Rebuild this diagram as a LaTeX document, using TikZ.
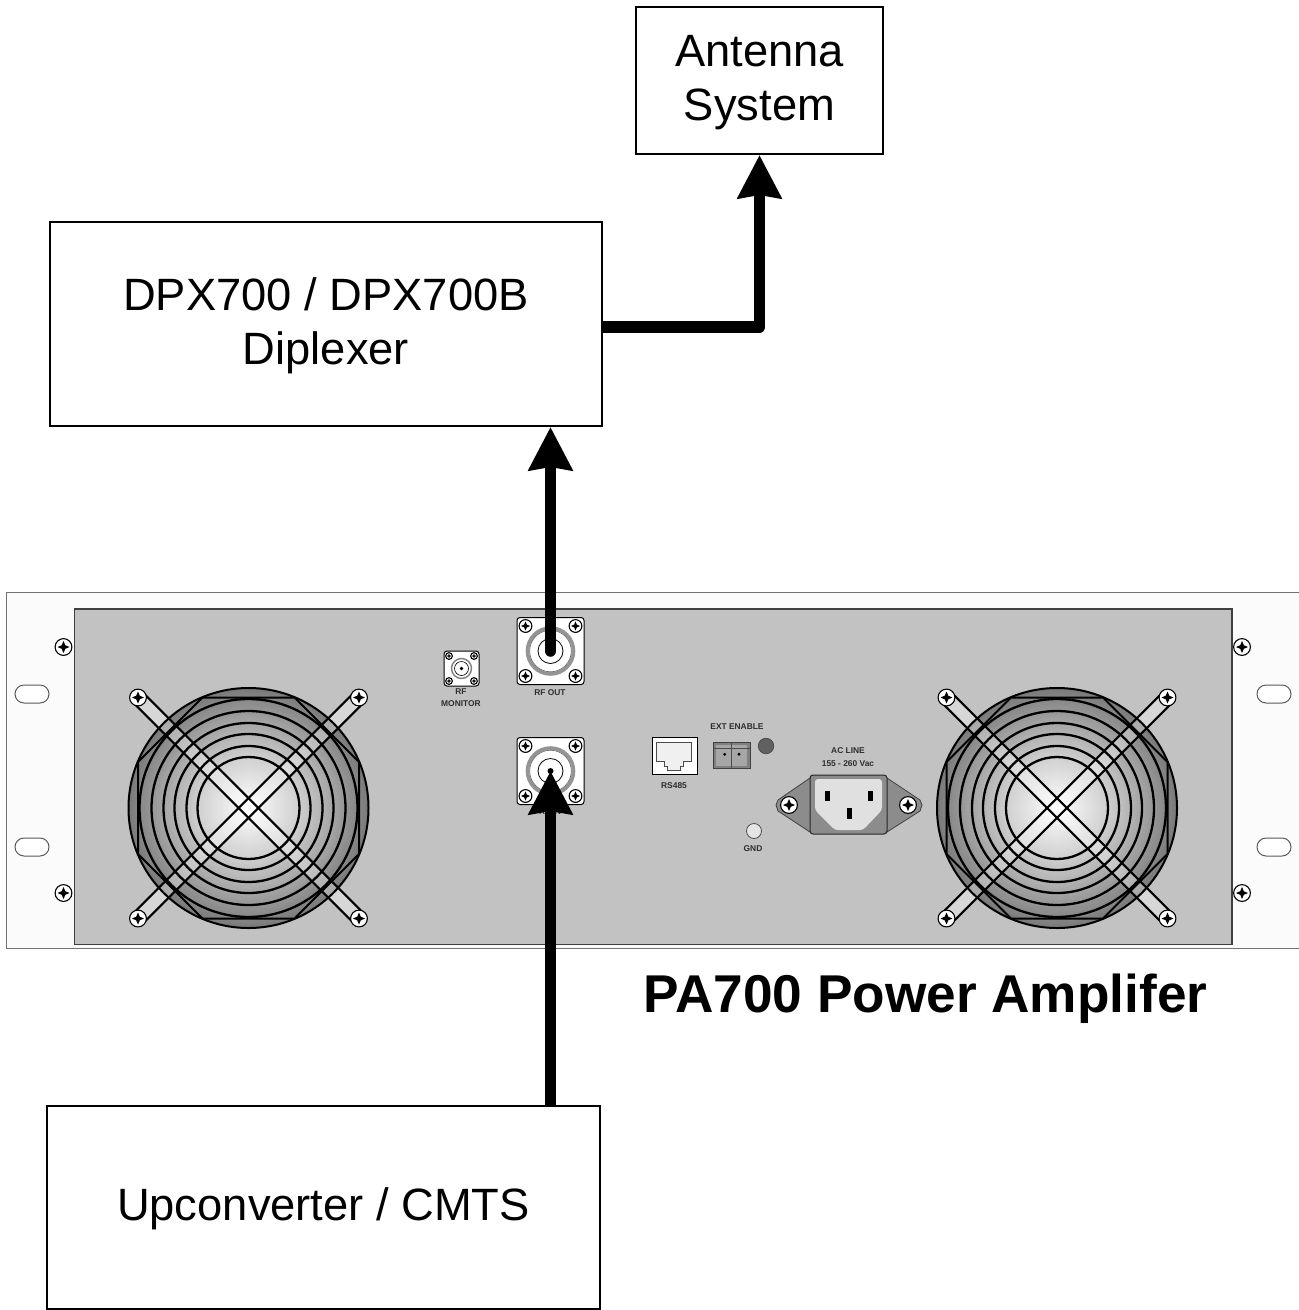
\documentclass[tikz,border=0pt]{standalone}
\usepackage{fontspec}
\setmainfont{Liberation Sans}
\usetikzlibrary{arrows.meta}
\definecolor{panelgray}{HTML}{C2C2C2}
\definecolor{rackwhite}{HTML}{FBFBFB}
\definecolor{inktext}{HTML}{2E2E2E}
\tikzset{
  blockbox/.style={draw=black,line width=2pt,fill=white,inner sep=0pt},
  blocktext/.style={inner sep=0pt,align=center,font=\fontsize{45.3}{54}\selectfont},
  feed/.style={line width=11.5pt,line join=round,-{Stealth[length=43pt,width=43pt,inset=3pt]}},
  tiny label/.style={text=inktext,inner sep=0pt,font=\bfseries\fontsize{8.4}{12}\selectfont},
  connbox/.style={draw=black,line width=1pt,fill=white,rounded corners=3pt,inner sep=0pt,minimum size=#1},
  slotshape/.style={draw=black!65,line width=1pt,fill=white,rounded corners=9pt},
  screwpic/.pic={
    \draw[black,line width=1.1pt,fill=white] (0,0) circle (8.4);
    \fill[black] (-6,0) -- (-1.8,-1.8) -- (0,-6) -- (1.8,-1.8) -- (6,0) -- (1.8,1.8) -- (0,6) -- (-1.8,1.8) -- cycle;
  }
}
\newcommand{\fanguard}[2]{%
  \begin{scope}[shift={(#1,#2)}]
    \foreach \r in {120,118,...,2} {
      \pgfmathsetmacro{\p}{\r<50 ? 0.36*\r : (\r<110 ? 18+(\r-50)*0.48 : 47+(\r-110)*0.5)}
      \fill[black!\p!white] (0,0) circle (\r);
    }
    \foreach \a in {45,-45} {
      \begin{scope}[rotate=\a]
        \fill[white,opacity=.35] (-156,-7) rectangle (156,7);
      \end{scope}
    }
    \draw[black,line width=2pt] (0,0) circle (120);
    \draw[black,line width=2pt,line join=round] (-110.5,-46) -- (-46,-110.5) -- (46,-110.5) -- (110.5,-46) -- (110.5,46) -- (46,110.5) -- (-46,110.5) -- (-110.5,46) -- cycle;
    \foreach \r in {51,62,74,85,97,109} {\draw[black,line width=2.3pt] (0,0) circle (\r);}
    \foreach \a in {45,-45} {
      \begin{scope}[rotate=\a]
        \draw[black,line width=2.1pt] (-156,-7) -- (156,-7) (-156,7) -- (156,7);
      \end{scope}
    }
    \pic at (-110.5,-110.5) {screwpic};
    \pic at (110.5,-110.5) {screwpic};
    \pic at (-110.5,110.5) {screwpic};
    \pic at (110.5,110.5) {screwpic};
  \end{scope}}
\newcommand{\bigconn}[3]{%
  \node[connbox=67pt] (#1) at (#2,#3) {};
  \begin{scope}[shift={(#2,#3)}]
    \draw[black!42,line width=3.6pt] (0,0) circle (23);
    \draw[black!60,line width=.6pt] (0,0) circle (20.8);
    \draw[black,line width=.8pt] (0,0) circle (12.5);
    \fill[black] (0,0) circle (3);
    \pic[scale=.76] at (-25,-25) {screwpic};
    \pic[scale=.76] at (25,-25) {screwpic};
    \pic[scale=.76] at (-25,25) {screwpic};
    \pic[scale=.76] at (25,25) {screwpic};
  \end{scope}}
\begin{document}
\begin{tikzpicture}[x=1pt,y=-1pt]
\useasboundingbox (0,0) rectangle (1299,1310);
\fill[white] (0,0) rectangle (1299,1310);
% rack
\draw[black!55,line width=1.3pt,fill=rackwhite] (1305,592.5) -- (6.5,592.5) -- (6.5,948.5) -- (1305,948.5);
\draw[black!75,line width=1.2pt,fill=panelgray] (74.5,609) rectangle (1232,944.5);
\foreach \y in {694,847} {
  \draw[slotshape] (15,\y-9) rectangle (49,\y+9);
  \draw[slotshape] (1257,\y-9) rectangle (1291,\y+9);
}
\pic at (63.5,647) {screwpic};
\pic at (63.5,893) {screwpic};
\pic at (1242,647) {screwpic};
\pic at (1242,893) {screwpic};
\fanguard{248.5}{808}
\fanguard{1057}{808}
% RF connectors
\bigconn{rfout}{550.5}{651}
\bigconn{rfin}{550.5}{771}
\node[tiny label] (rfoutlabel) at (550,693) {RF OUT};
\node[tiny label] (rfinlabel) at (550,812) {RF IN};
\node[connbox=35pt] (rfmon) at (461.5,668.5) {};
\begin{scope}[shift={(461.5,668.5)}]
  \draw[black!50,line width=1.4pt] (0,0) circle (10);
  \draw[black,line width=.6pt] (0,0) circle (7);
  \fill[black] (0,0) circle (1.8);
  \pic[scale=.4] at (-12.5,-12.5) {screwpic};
  \pic[scale=.4] at (12.5,-12.5) {screwpic};
  \pic[scale=.4] at (-12.5,12.5) {screwpic};
  \pic[scale=.4] at (12.5,12.5) {screwpic};
\end{scope}
\node[tiny label] (rfmonlabel) at (461,698) [align=center] {RF\\MONITOR};
% RS485
\node[draw=black,line width=.8pt,fill=white,minimum width=45pt,minimum height=37pt,inner sep=0pt] (rsport) at (674.5,755.5) {};
\draw[black!70,line width=1pt,fill=black!6] (656.7,742.3) -- (691.7,742.3) -- (691.7,761.7) -- (683.3,761.7) -- (683.3,766.7) -- (680,766.7) -- (680,770.7) -- (667.3,770.7) -- (667.3,766.7) -- (664.3,766.7) -- (664.3,761.7) -- (656.7,761.7) -- cycle;
\node[tiny label] (rslabel) at (674,786) {RS485};
% EXT ENABLE
\node[draw=black!75,line width=.8pt,fill=black!50,minimum width=37pt,minimum height=26pt,inner sep=0pt] (extport) at (731.5,755) {};
\fill[black!35] (716,745) rectangle (730.5,766);
\fill[black!35] (732,745) rectangle (747,766);
\draw[black!70,line width=.6pt] (713,748.5) -- (750,748.5) (731.3,742) -- (731.3,768);
\fill[black] (724.7,754.3) circle (1.6);
\fill[black] (739,754.3) circle (1.6);
\node[tiny label] (extlabel) at (737,727) {EXT ENABLE};
\node[circle,draw=black!70,line width=.8pt,fill=black!62,minimum size=15.5pt,inner sep=0pt] (led) at (766,746) {};
% GND
\node[circle,draw=black!70,line width=.8pt,fill=black!10,minimum size=15pt,inner sep=0pt] (gnd) at (754,831) {};
\node[tiny label] (gndlabel) at (753,849) {GND};
% AC inlet
\node[tiny label] (aclabel) at (848,751) {AC LINE};
\node[tiny label] (acvolts) at (848,764) {155 - 260 Vac};
\fill[black!45,draw=black!75,line width=.8pt,line join=round] (810,778) -- (778,800) -- (776,805) -- (778,811) -- (810,832) -- (887,832) -- (920,811) -- (922,805) -- (920,800) -- (887,778) -- cycle;
\node[draw=black!85,line width=1pt,fill=black!45,rounded corners=3pt,minimum width=77pt,minimum height=59pt,inner sep=0pt] (inlet) at (848.5,804.5) {};
\fill[black!12,rounded corners=3pt] (815,779) -- (815,810) -- (835,830) -- (863,830) -- (882,810) -- (882,779) -- cycle;
\fill[black] (824.5,790.5) rectangle (829.5,801);
\fill[black] (867.5,790.5) rectangle (872.5,801);
\fill[black] (846.5,807.5) rectangle (851.5,818.5);
\pic at (789,805) {screwpic};
\pic at (908,805) {screwpic};
% blocks
\node[blockbox,minimum width=247pt,minimum height=147pt] (antenna) at (759.5,80.5) {};
\node[blocktext] (antennatext) at (759.5,82.5) {Antenna\\System};
\node[blockbox,minimum width=552pt,minimum height=204pt] (diplexer) at (326,324) {};
\node[blocktext] (diplexertext) at (326,326) {DPX700 / DPX700B\\Diplexer};
\node[blockbox,minimum width=553pt,minimum height=203pt] (upconv) at (323.5,1207.5) {};
\node[blocktext] (upconvtext) at (323.5,1209) {Upconverter / CMTS};
\node[inner sep=0pt,text=black,font=\bfseries\fontsize{53.2}{60}\selectfont] (title) at (925.5,999) {PA700 Power Amplifer};
% feeds
\coordinate (dipout) at ([yshift=-3pt]diplexer.east);
\coordinate (bend) at (antenna.south |- dipout);
\draw[feed,line cap=round] (rfout.center) -- (rfout.center |- diplexer.south);
\draw[feed] (rfin.center |- upconv.north) -- (rfin.center);
\draw[feed] (dipout) -- (bend) -- (antenna.south);
\end{tikzpicture}
\end{document}
